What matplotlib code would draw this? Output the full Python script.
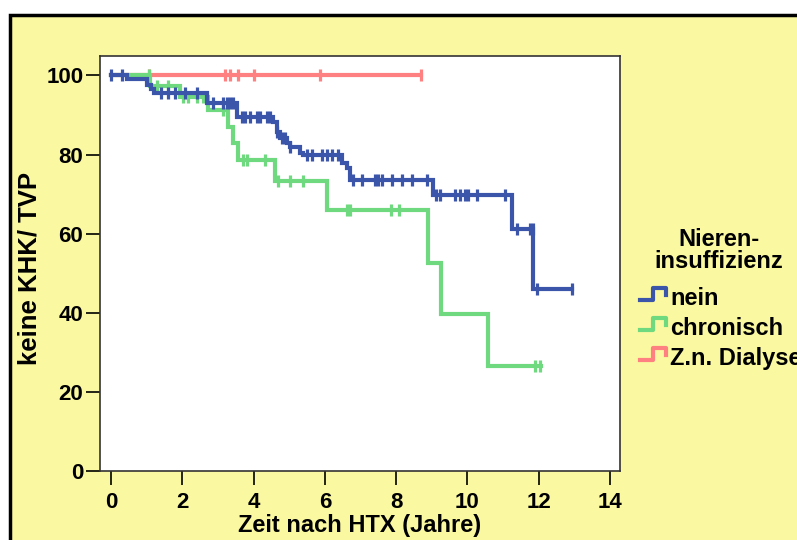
import numpy as np
import matplotlib.pyplot as plt
from matplotlib.patches import Rectangle

plt.rcParams['font.family'] = ['Liberation Sans', 'DejaVu Sans']
plt.rcParams['font.weight'] = 'bold'

# Kaplan-Meier: keine KHK/TVP nach Nierenfunktion
nein_t = [0, 0.45, 1.0, 1.12, 1.2, 2.68, 3.52, 4.55, 4.65, 4.74, 4.93, 5.02,
          5.30, 5.39, 6.47, 6.61, 6.70, 9.04, 11.24, 11.85]
nein_s = [100, 99.0, 97.6, 96.5, 95.5, 93.0, 89.5, 88.3, 85.8, 84.1, 82.8, 81.9,
          80.3, 79.9, 77.8, 76.5, 73.6, 69.8, 61.1, 46.0]
nein_end = 12.92
nein_cens = [0.0, 0.3, 1.40, 1.60, 1.80, 2.08, 2.40, 2.86, 3.14, 3.25, 3.34, 3.42,
             3.67, 3.76, 3.90, 4.09, 4.18, 4.37, 4.46, 4.65, 4.79, 4.88, 5.02,
             5.49, 5.63, 5.91, 6.05, 6.19, 6.38, 6.80, 7.03, 7.41, 7.50, 7.59,
             7.87, 8.15, 8.43, 8.86, 9.13, 9.23, 9.65, 9.79, 9.93, 10.02, 10.26,
             11.05, 11.38, 11.75, 11.84, 11.94, 12.92]

chron_t = [0, 1.10, 1.94, 2.73, 3.29, 3.43, 3.56, 4.60, 6.05, 8.88, 9.27, 10.57]
chron_s = [100, 97.3, 94.6, 91.2, 87.0, 82.8, 78.6, 73.4, 66.0, 52.7, 39.6, 26.6]
chron_end = 12.05
chron_cens = [1.07, 1.28, 1.61, 2.03, 2.17, 2.40, 2.59, 3.14, 3.25, 3.70, 3.81,
              4.32, 4.69, 5.02, 5.39, 6.61, 6.70, 7.85, 8.08, 11.89, 12.03]

dial_t = [0]
dial_s = [100]
dial_end = 8.71
dial_cens = [1.07, 3.20, 3.34, 3.57, 4.02, 5.86, 8.71]

names = ["nein", "chronisch", "Z.n. Dialyse"]
colors = ['#3a55aa', '#6fd97f', '#ff8080']

groups = [
    (dial_t, dial_s, dial_end, dial_cens, colors[2]),
    (chron_t, chron_s, chron_end, chron_cens, colors[1]),
    (nein_t, nein_s, nein_end, nein_cens, colors[0]),
]

W, H = 797, 540
fig = plt.figure(figsize=(W / 100, H / 100), dpi=100)
fig.patch.set_facecolor('white')
fig.add_artist(Rectangle((10 / W, -0.1), 1.2, 1.1 - 15 / H,
                         transform=fig.transFigure, facecolor='#faf8a0',
                         edgecolor='black', lw=2.5, zorder=-5))

ax = fig.add_axes([100 / W, 1 - 471 / H, 520 / W, 415 / H])
ax.set_facecolor('white')

for i, (t, s, end, cens, col) in enumerate(groups):
    tt = list(t) + [end]
    ss = list(s) + [s[-1]]
    ax.step(tt, ss, where='post', color=col, lw=3, zorder=2 + i,
            solid_joinstyle='miter')
    idx = np.searchsorted(t, cens, side='right') - 1
    cy = np.array(s)[idx]
    ax.plot(cens, cy, ls='none', marker='|', ms=9, mew=2.3, color=col,
            zorder=2 + i)

ax.set_xlim(-0.31, 14.28)
ax.set_ylim(0, 104.9)
ax.set_xticks(np.arange(0, 15, 2))
ax.set_yticks(np.arange(0, 101, 20))
ax.tick_params(direction='out', length=10, width=1.2, labelsize=16, pad=2)
ax.tick_params(axis='x', pad=5)
for sp in ax.spines.values():
    sp.set_color('#333333')
    sp.set_linewidth(1.2)
ax.set_xlabel("Zeit nach HTX (Jahre)", fontsize=17, fontweight='bold', labelpad=1)
ax.set_ylabel("keine KHK/ TVP", fontsize=18.5, fontweight='bold')
ax.yaxis.set_label_coords(-0.112, 0.489)

# legend drawn by hand with step-shaped keys
fig.text(719 / W, 1 - 239.5 / H, "Nieren-", ha='center', va='center',
         fontsize=17, fontweight='bold')
fig.text(719 / W, 1 - 262 / H, "insuffizienz", ha='center', va='center',
         fontsize=17, fontweight='bold')
for k in range(3):
    base = 305 + k * 30
    xs = np.array([640, 653, 653, 666, 666])
    ys = np.array([base - 5, base - 5, base - 17, base - 17, base - 10])
    fig.add_artist(plt.Line2D(xs / W, 1 - ys / H, color=colors[k], lw=3,
                              transform=fig.transFigure))
    fig.text(670 / W, 1 - base / H, names[k], ha='left', va='baseline',
             fontsize=17, fontweight='bold')

fig.savefig("out.png", dpi=100)
